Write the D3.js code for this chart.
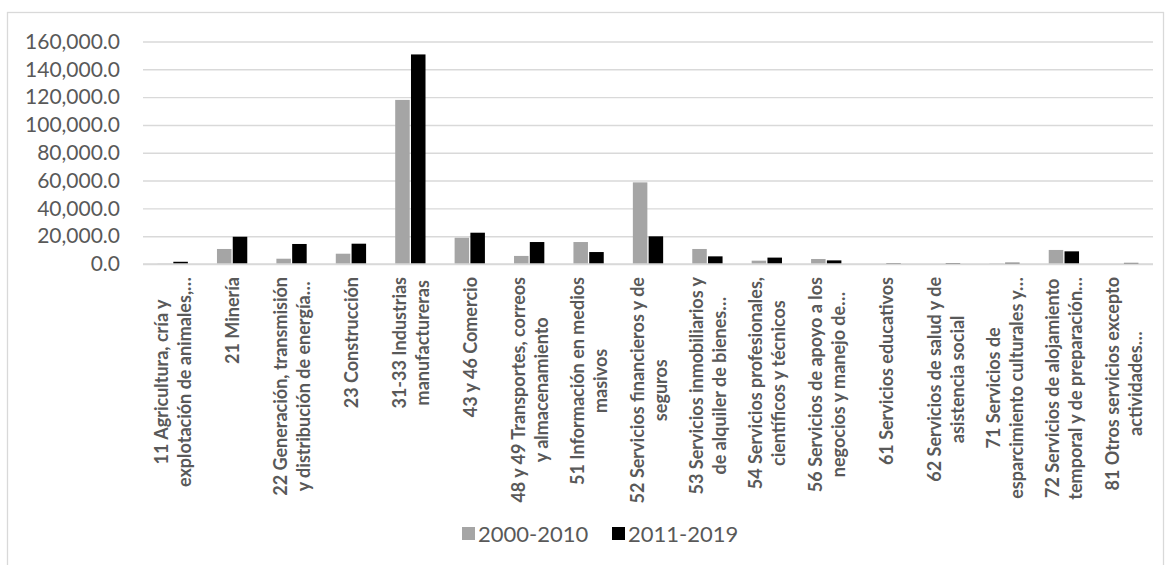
<!DOCTYPE html>
<html>
<head>
<meta charset="utf-8">
<script src="https://cdn.jsdelivr.net/npm/d3@7"></script>
<style>
  body { margin: 0; background: #fff; }
  svg { display: block; }
  text { font-family: Lato, "Open Sans", sans-serif; }
</style>
</head>
<body>
<svg id="chart" width="1170" height="565"></svg>
<script>
// Sector labels, already split into the lines they are drawn on
const categories = [
  ["11 Agricultura, cría y", "explotación de animales,…"],
  ["21 Minería"],
  ["22 Generación, transmisión", "y distribución de energía…"],
  ["23 Construcción"],
  ["31-33 Industrias", "manufactureras"],
  ["43 y 46 Comercio"],
  ["48 y 49 Transportes, correos", "y almacenamiento"],
  ["51 Información en medios", "masivos"],
  ["52 Servicios financieros y de", "seguros"],
  ["53 Servicios inmobiliarios y", "de alquiler de bienes…"],
  ["54 Servicios profesionales,", "científicos y técnicos"],
  ["56 Servicios de apoyo a los", "negocios y manejo de…"],
  ["61 Servicios educativos"],
  ["62 Servicios de salud y de", "asistencia social"],
  ["71 Servicios de", "esparcimiento culturales y…"],
  ["72 Servicios de alojamiento", "temporal y de preparación…"],
  ["81 Otros servicios excepto", "actividades…"]
];

const seriesNames = ["2000-2010", "2011-2019"];
const values2000 = [200, 10800, 3800, 7400, 118000, 18900, 5800, 15800, 58700, 10800, 2400, 3600, 0, 0, 300, 10100, 0];
const values2011 = [1600, 19600, 14400, 14600, 150700, 22500, 15800, 8600, 19900, 5500, 4600, 2600, 600, 700, 900, 9100, 800];
const yTicks = [0, 20000, 40000, 60000, 80000, 100000, 120000, 140000, 160000];
const seriesColors = ["#a5a5a5", "#000000"];

const svg = d3.select("#chart");
const plot = { left: 143, right: 1153, top: 41.5, bottom: 264 };

// Chart frame
svg.append("rect")
  .attr("x", 7.5).attr("y", 12.5)
  .attr("width", 1156).attr("height", 570)
  .attr("fill", "#fff").attr("stroke", "#d9d9d9").attr("stroke-width", 1.3);

const x0 = d3.scaleBand()
  .domain(d3.range(categories.length))
  .range([plot.left, plot.right])
  .paddingInner(0.49).paddingOuter(0.245);

const x1 = d3.scaleBand()
  .domain([0, 1])
  .range([0, x0.bandwidth()])
  .paddingInner(0.08);

const y = d3.scaleLinear().domain([0, 160000]).range([plot.bottom, plot.top]);

// Gridlines and value labels
const yAxis = d3.axisLeft(y)
  .tickValues(yTicks)
  .tickSize(-(plot.right - plot.left))
  .tickPadding(23)
  .tickFormat(d3.format(",.1f"));

const gy = svg.append("g")
  .attr("transform", `translate(${plot.left},0)`)
  .call(yAxis);
gy.select(".domain").remove();
gy.selectAll(".tick line").attr("stroke", "#d9d9d9").attr("stroke-width", 1.4);
gy.selectAll(".tick text")
  .attr("fill", "#595959")
  .style("font-size", "21px");

// Bars
const rows = categories.map((c, i) => ({ i, vals: [values2000[i], values2011[i]] }));
const groups = svg.append("g").selectAll("g")
  .data(rows).join("g")
  .attr("transform", d => `translate(${x0(d.i)},0)`);

groups.selectAll("rect")
  .data(d => d.vals.map((v, s) => ({ v, s })))
  .join("rect")
  .attr("x", d => x1(d.s))
  .attr("width", x1.bandwidth())
  .attr("y", d => y(d.v))
  .attr("height", d => y(0) - y(d.v))
  .attr("fill", d => seriesColors[d.s]);

// Category axis line drawn over the bar bases
svg.append("line")
  .attr("x1", plot.left).attr("x2", plot.right)
  .attr("y1", y(0)).attr("y2", y(0))
  .attr("stroke", "#d9d9d9").attr("stroke-width", 1.4);

// Rotated category labels, top-aligned under the axis, lines centred on each other
const lineGap = 23;
const labelTop = 277;
const labels = svg.append("g");
categories.forEach((lines, i) => {
  const cx = x0(i) + x0.bandwidth() / 2;
  const g = labels.append("g");
  const texts = lines.map((ln, k) => g.append("text")
    .text(ln)
    .attr("fill", "#595959")
    .attr("font-weight", "bold")
    .style("font-size", "18px")
    .attr("text-anchor", "middle")
    .attr("dominant-baseline", "central")
    .attr("y", (k - (lines.length - 1) / 2) * lineGap));
  const L = d3.max(texts, t => t.node().getComputedTextLength());
  texts.forEach(t => t.attr("x", -L / 2));
  g.attr("transform", `translate(${cx},${labelTop}) rotate(-90)`);
});

// Legend
const legendItems = [
  { name: seriesNames[0], color: seriesColors[0], x: 462 },
  { name: seriesNames[1], color: seriesColors[1], x: 612 }
];
const lg = svg.append("g").selectAll("g")
  .data(legendItems).join("g")
  .attr("transform", d => `translate(${d.x},0)`);
lg.append("rect")
  .attr("x", 0).attr("y", 527).attr("width", 13).attr("height", 13)
  .attr("fill", d => d.color);
lg.append("text")
  .attr("x", 16).attr("y", 542)
  .attr("fill", "#595959")
  .style("font-size", "22px")
  .text(d => d.name);
</script>
</body>
</html>
